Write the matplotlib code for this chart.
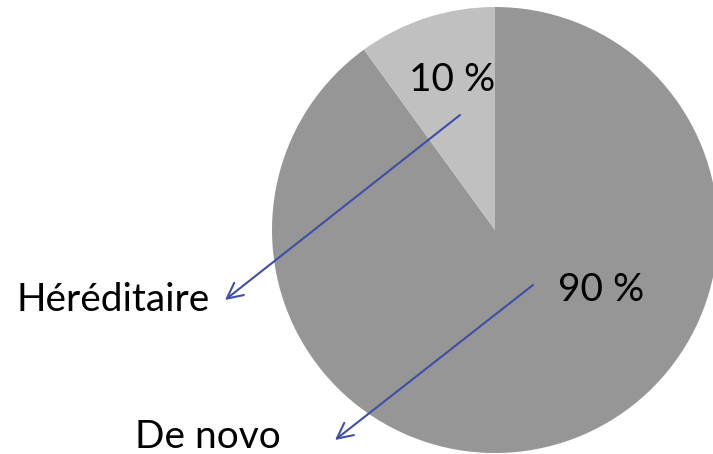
import matplotlib.pyplot as plt

# data
labels = ['De novo', 'Héréditaire']
values = [90, 10]
pct_labels = ['90 %', '10 %']
colors = ['#969696', '#c0c0c0']

W, H = 713, 454
fig = plt.figure(figsize=(W / 100, H / 100), dpi=100)
ax = fig.add_axes([0, 0, 1, 1])

cx, cy, r = 495, H - 230, 223
ax.pie(values, colors=colors, startangle=90, counterclock=False,
       center=(cx, cy), radius=r, frame=True)
ax.set_xlim(0, W)
ax.set_ylim(0, H)
ax.set_aspect('equal')
ax.axis('off')

font = 'Lato'
fs = 28
arrow_col = '#3f4ea6'

# percentage labels inside the slices
ax.text(452, H - 80, pct_labels[1], fontsize=fs, family=font, ha='center', va='center')
ax.text(601, H - 290, pct_labels[0], fontsize=fs, family=font, ha='center', va='center')

# category labels outside with arrows
ax.text(113, H - 300, labels[1], fontsize=fs, family=font, ha='center', va='center')
ax.text(208, H - 437, labels[0], fontsize=fs, family=font, ha='center', va='center')

ax.annotate('', xy=(225, H - 300), xytext=(460, H - 115),
            arrowprops=dict(arrowstyle='->', color=arrow_col, lw=1.5,
                            mutation_scale=28, shrinkA=0, shrinkB=0))
ax.annotate('', xy=(335, H - 440), xytext=(533, H - 285),
            arrowprops=dict(arrowstyle='->', color=arrow_col, lw=1.5,
                            mutation_scale=28, shrinkA=0, shrinkB=0))

fig.savefig('out.png', dpi=100)
